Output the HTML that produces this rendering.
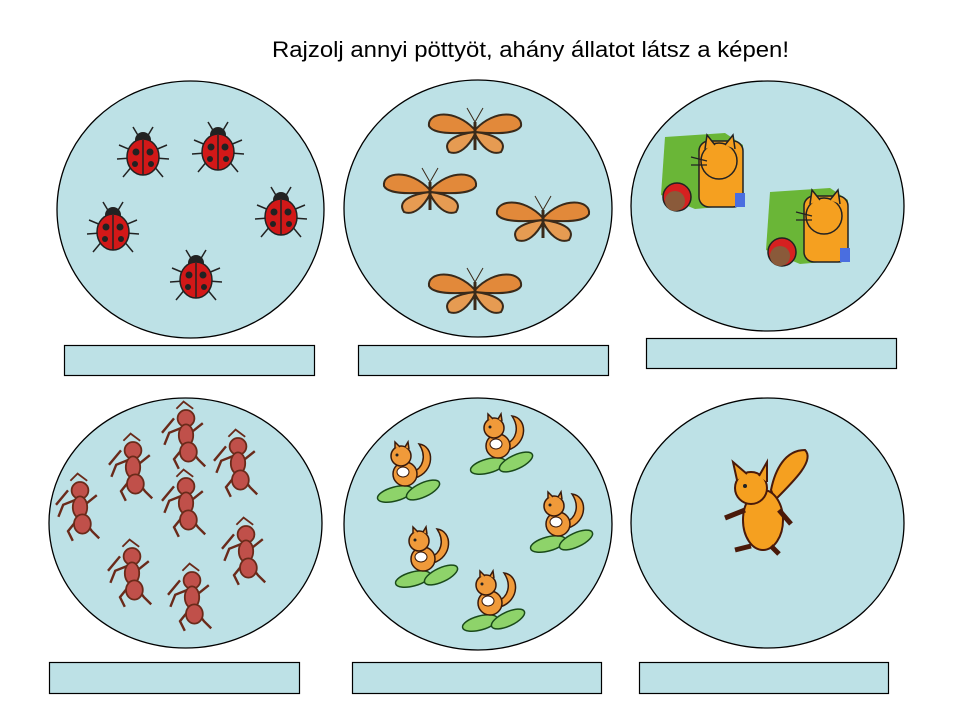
<!DOCTYPE html>
<html><head><meta charset="utf-8">
<style>
html,body{margin:0;padding:0;background:#fff;width:960px;height:720px;overflow:hidden}
svg{display:block}
</style></head>
<body>
<svg width="960" height="720" viewBox="0 0 960 720" xmlns="http://www.w3.org/2000/svg">
<defs>
<g id="ladybug">
  <g stroke="#222" stroke-width="1.5" fill="none">
    <path d="M-12,-5 L-24,-10 M-12,3 L-26,4 M-10,10 L-20,22 M12,-5 L24,-10 M12,3 L26,4 M10,10 L20,22 M-4,-18 L-10,-28 M4,-18 L10,-28"/>
  </g>
  <circle cx="0" cy="-15" r="8" fill="#222"/>
  <ellipse cx="0" cy="2" rx="16" ry="18" fill="#d21818" stroke="#222" stroke-width="1.5"/>
  <line x1="0" y1="-15" x2="0" y2="20" stroke="#222" stroke-width="1.5"/>
  <circle cx="-7" cy="-3" r="3.5" fill="#222"/><circle cx="7" cy="-3" r="3.5" fill="#222"/>
  <circle cx="-8" cy="9" r="3" fill="#222"/><circle cx="8" cy="9" r="3" fill="#222"/>
</g>
<g id="butterfly">
  <path d="M0,0 C-20,-22 -48,-18 -46,-4 C-42,4 -20,4 0,2 Z" fill="#e2893a" stroke="#3a2a1a" stroke-width="2"/>
  <path d="M0,0 C20,-22 48,-18 46,-4 C42,4 20,4 0,2 Z" fill="#e2893a" stroke="#3a2a1a" stroke-width="2"/>
  <path d="M0,2 C-16,4 -34,10 -26,22 C-16,26 -6,16 0,4 Z" fill="#e69b52" stroke="#3a2a1a" stroke-width="2"/>
  <path d="M0,2 C16,4 34,10 26,22 C16,26 6,16 0,4 Z" fill="#e69b52" stroke="#3a2a1a" stroke-width="2"/>
  <line x1="0" y1="-8" x2="0" y2="20" stroke="#3a2a1a" stroke-width="3"/>
  <path d="M0,-8 L-8,-22 M0,-8 L8,-22" stroke="#3a2a1a" stroke-width="1"/>
</g>
<g id="cat">
  <path d="M-40,-38 L20,-42 L38,-30 L36,30 L-10,34 L-44,20 Z" fill="#6ab637"/>
  <rect x="-6" y="-34" width="44" height="66" rx="10" fill="#f5a020" stroke="#222" stroke-width="1.5"/>
  <circle cx="14" cy="-14" r="18" fill="#f5a020" stroke="#222" stroke-width="1.5"/>
  <path d="M0,-26 L2,-40 L10,-30 M20,-30 L28,-40 L30,-26" fill="#f5a020" stroke="#222" stroke-width="1.5"/>
  <path d="M-14,-18 L2,-14 M-14,-10 L2,-10" stroke="#222" stroke-width="1.2"/>
  <rect x="30" y="18" width="10" height="14" fill="#4a6ee0"/>
  <circle cx="-28" cy="22" r="14" fill="#d62020" stroke="#222" stroke-width="1.5"/>
  <circle cx="-30" cy="26" r="10" fill="#8a5a3a"/>
</g>
<g id="ant">
 <g transform="scale(1.2)">
  <g stroke="#6a2a1a" stroke-width="2" fill="none">
    <path d="M-4,-10 L-14,-6 L-18,4 M4,-6 L14,-14 M-2,6 L-10,16 L-6,24 M4,8 L10,16 L16,22 M-10,-18 L-20,-6"/>
  </g>
  <circle cx="0" cy="-18" r="7" fill="#c0504a" stroke="#6a2a1a" stroke-width="1.5"/>
  <ellipse cx="0" cy="-4" rx="6" ry="9" fill="#c0504a" stroke="#6a2a1a" stroke-width="1.5"/>
  <ellipse cx="2" cy="10" rx="7" ry="8" fill="#c0504a" stroke="#6a2a1a" stroke-width="1.5"/>
  <path d="M-8,-26 L-2,-32 L6,-26" stroke="#6a2a1a" stroke-width="1.5" fill="none"/>
 </g>
</g>
<g id="squirrel">
  <ellipse cx="-10" cy="26" rx="18" ry="7" fill="#8ed36a" stroke="#1a4a1a" stroke-width="1.5" transform="rotate(-15 -10 26)"/>
  <ellipse cx="18" cy="22" rx="18" ry="7" fill="#8ed36a" stroke="#1a4a1a" stroke-width="1.5" transform="rotate(-25 18 22)"/>
  <path d="M10,10 C30,4 30,-22 14,-24 C22,-12 18,0 8,4 Z" fill="#f09a3a" stroke="#3a1a0a" stroke-width="1.5"/>
  <ellipse cx="0" cy="6" rx="12" ry="12" fill="#f09a3a" stroke="#3a1a0a" stroke-width="1.5"/>
  <circle cx="-4" cy="-12" r="10" fill="#f09a3a" stroke="#3a1a0a" stroke-width="1.5"/>
  <path d="M-10,-20 L-10,-26 L-5,-21 M0,-21 L3,-26 L4,-19" fill="#f09a3a" stroke="#3a1a0a" stroke-width="1.5"/>
  <circle cx="-8" cy="-13" r="1.5" fill="#222"/>
  <ellipse cx="-2" cy="4" rx="6" ry="5" fill="#fff" stroke="#3a1a0a" stroke-width="1"/>
</g>
</defs>

<text x="272" y="57" textLength="517" lengthAdjust="spacingAndGlyphs" font-family="Liberation Sans, Arial, sans-serif" font-size="22" fill="#000">Rajzolj annyi pöttyöt, ahány állatot látsz a képen!</text>

<g fill="#bde1e6" stroke="#000" stroke-width="1.3">
  <ellipse cx="190.5" cy="209.5" rx="133.5" ry="128.5"/>
  <ellipse cx="478" cy="208.5" rx="134" ry="128.5"/>
  <ellipse cx="767.5" cy="206" rx="136.5" ry="125"/>
  <ellipse cx="185.5" cy="523" rx="136.5" ry="125"/>
  <ellipse cx="478" cy="524" rx="134" ry="126"/>
  <ellipse cx="767.5" cy="523" rx="136.5" ry="125"/>
</g>

<g fill="#bde1e6" stroke="#000" stroke-width="1.2">
  <rect x="64.5" y="345.5" width="250" height="30"/>
  <rect x="358.5" y="345.5" width="250" height="30"/>
  <rect x="646.5" y="338.5" width="250" height="30"/>
  <rect x="49.5" y="662.5" width="250" height="31"/>
  <rect x="352.5" y="662.5" width="249" height="31"/>
  <rect x="639.5" y="662.5" width="249" height="31"/>
</g>

<g>
  <use href="#ladybug" x="143" y="155"/>
  <use href="#ladybug" x="218" y="150"/>
  <use href="#ladybug" x="281" y="215"/>
  <use href="#ladybug" x="113" y="230"/>
  <use href="#ladybug" x="196" y="278"/>
</g>
<g>
  <use href="#butterfly" x="475" y="130"/>
  <use href="#butterfly" x="430" y="190"/>
  <use href="#butterfly" x="543" y="218"/>
  <use href="#butterfly" x="475" y="290"/>
</g>
<g>
  <use href="#cat" x="705" y="175"/>
  <use href="#cat" x="810" y="230"/>
</g>
<g>
  <use href="#ant" x="186" y="440"/>
  <use href="#ant" x="133" y="472"/>
  <use href="#ant" x="238" y="468"/>
  <use href="#ant" x="80" y="512"/>
  <use href="#ant" x="186" y="508"/>
  <use href="#ant" x="246" y="556"/>
  <use href="#ant" x="132" y="578"/>
  <use href="#ant" x="192" y="602"/>
</g>
<g>
  <use href="#squirrel" x="405" y="468"/>
  <use href="#squirrel" x="498" y="440"/>
  <use href="#squirrel" x="558" y="518"/>
  <use href="#squirrel" x="423" y="553"/>
  <use href="#squirrel" x="490" y="597"/>
</g>
<g transform="translate(765,510)">
  <path d="M10,-10 C30,-30 50,-50 40,-60 C20,-60 10,-40 6,-20 Z" fill="#f5a020" stroke="#4a1a0a" stroke-width="2"/>
  <ellipse cx="-2" cy="10" rx="20" ry="30" fill="#f5a020" stroke="#4a1a0a" stroke-width="2"/>
  <circle cx="-14" cy="-22" r="16" fill="#f5a020" stroke="#4a1a0a" stroke-width="2"/>
  <path d="M-28,-30 L-32,-48 L-18,-36 M-6,-34 L2,-48 L2,-28" fill="#f5a020" stroke="#4a1a0a" stroke-width="2"/>
  <path d="M-20,0 L-40,8 M14,0 L26,14 M-14,36 L-30,40 M6,36 L14,44" stroke="#4a1a0a" stroke-width="5"/>
  <circle cx="-20" cy="-24" r="2" fill="#222"/>
</g>
</svg>
</body></html>
